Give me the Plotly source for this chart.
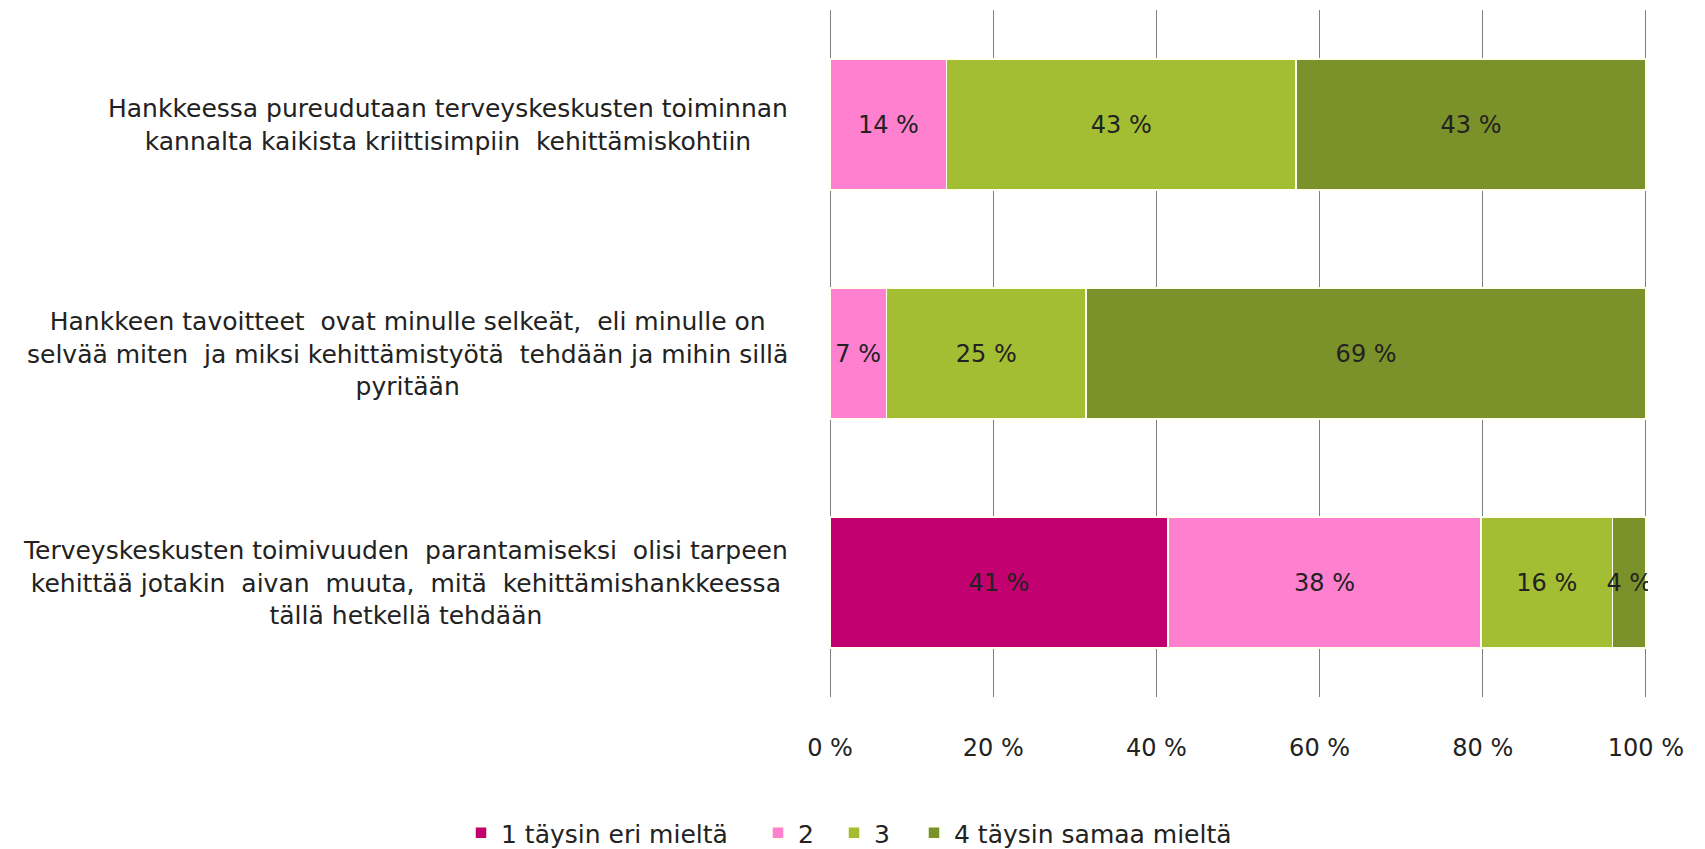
import plotly.graph_objects as go

categories = [
    "Hankkeessa pureudutaan terveyskeskusten toiminnan<br>kannalta kaikista kriittisimpiin  kehittämiskohtiin",
    "Hankkeen tavoitteet  ovat minulle selkeät,  eli minulle on<br>selvää miten  ja miksi kehittämistyötä  tehdään ja mihin sillä<br>pyritään",
    "Terveyskeskusten toimivuuden  parantamiseksi  olisi tarpeen<br>kehittää jotakin  aivan  muuta,  mitä  kehittämishankkeessa<br>tällä hetkellä tehdään",
]
series_names = ["1 täysin eri mieltä", "2", "3", "4 täysin samaa mieltä"]
s1 = [0, 0, 41.4]
s2 = [14.3, 6.9, 38.4]
s3 = [42.8, 24.5, 16.1]
s4 = [42.9, 68.6, 4.1]
labels1 = ["", "", "41 %"]
labels2 = ["14 %", "7 %", "38 %"]
labels3 = ["43 %", "25 %", "16 %"]
labels4 = ["43 %", "69 %", "4 %"]
tick_vals = [0, 20, 40, 60, 80, 100]
tick_text = ["0 %", "20 %", "40 %", "60 %", "80 %", "100 %"]

colors = ["#C3006F", "#FF80CF", "#A3BE32", "#7B9129"]
series = [s1, s2, s3, s4]
labels = [labels1, labels2, labels3, labels4]

W, H = 1705, 849
L, R, T, B = 828, 57, 10, 152
PW = W - L - R
PH = H - T - B
FONT = "DejaVu Sans"
TXT = "#222222"

legend_names = ["legend", "legend2", "legend3", "legend4"]
legend_px = [461, 758, 834, 914]

fig = go.Figure()
for name, vals, lab, col, lg in zip(series_names, series, labels, colors, legend_names):
    fig.add_trace(go.Bar(
        y=list(range(len(categories))), x=vals, name=name, orientation="h",
        marker=dict(color=col, line=dict(color="#FFFFF0", width=1.5)),
        text=lab, textposition="inside", insidetextanchor="middle",
        textangle=0, constraintext="none",
        textfont=dict(family=FONT, size=24, color=TXT),
        width=0.57, hoverinfo="skip", legend=lg,
    ))

for i, c in enumerate(categories):
    fig.add_annotation(
        x=(790 - L) / PW, xref="x domain", y=i, yref="y",
        text=c, showarrow=False, xanchor="right", yanchor="middle",
        align="center", font=dict(family=FONT, size=25, color=TXT),
    )

legend_common = dict(orientation="h", xanchor="left", y=(697 - 833) / PH, yanchor="middle",
                     font=dict(family=FONT, size=25, color=TXT),
                     itemwidth=30, bgcolor="rgba(0,0,0,0)")
layout_legends = {}
for lg, px in zip(legend_names, legend_px):
    layout_legends[lg] = dict(legend_common, x=(px - L) / PW)

fig.update_layout(
    width=W, height=H, barmode="stack",
    margin=dict(l=L, r=R, t=T, b=B, autoexpand=False),
    plot_bgcolor="white", paper_bgcolor="white",
    showlegend=True,
    xaxis=dict(range=[-0.25, 100.25], tickvals=tick_vals, ticktext=tick_text,
               showgrid=True, gridcolor="#7F7F7F", gridwidth=1.3,
               zeroline=False, showline=False, ticks="",
               ticklabelstandoff=34,
               tickfont=dict(family=FONT, size=24, color=TXT)),
    yaxis=dict(range=[2.5, -0.5], showticklabels=False, showgrid=False,
               zeroline=False, showline=False, ticks=""),
    **layout_legends,
)

fig.write_html("out.html", config={"displayModeBar": False},
               post_script="document.body.style.margin='0';document.body.style.overflow='hidden';")
